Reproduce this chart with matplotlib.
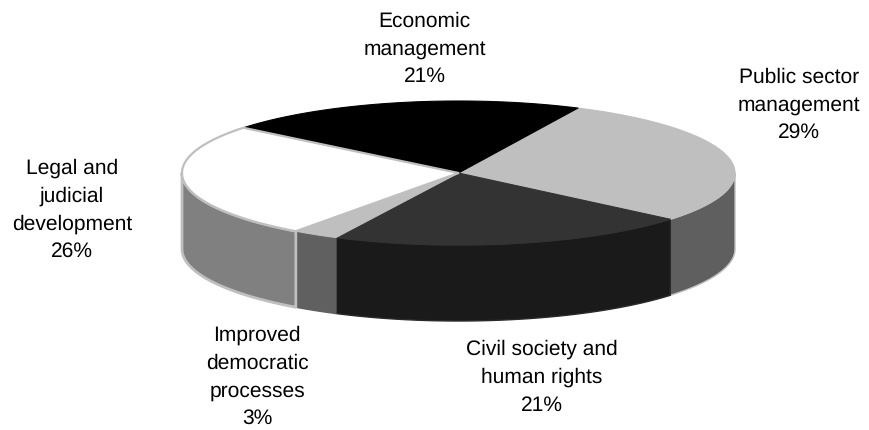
import numpy as np
import matplotlib
matplotlib.use("Agg")
import matplotlib.pyplot as plt
from matplotlib.patches import Polygon

categories = ["Public sector\nmanagement", "Civil society and\nhuman rights", "Improved\ndemocratic\nprocesses", "Legal and\njudicial\ndevelopment", "Economic\nmanagement"]
values = [29.0, 21.2, 2.7, 25.8, 21.3]
top_colors = ["#bfbfbf", "#333333", "#bfbfbf", "#ffffff", "#000000"]
side_colors = ["#5f5f5f", "#1a1a1a", "#606060", "#808080", "#000000"]
side_edges = ["#bfbfbf", "#2a2a2a", "#606060", "#bfbfbf", "#000000"]
top_edges = ["#bfbfbf", "#333333", "#bfbfbf", "#bfbfbf", "#000000"]
label_xy = [(799, 105), (542, 377.5), (257, 377), (72, 210), (424.7, 49)]

CX, CY, RX, RY, DEPTH = 458.5, 173, 276.5, 72, 76
START = 64.4

plt.rcParams["font.family"] = ["Liberation Sans", "DejaVu Sans"]
plt.rcParams["text.hinting"] = "none"
plt.rcParams["text.hinting_factor"] = 1
fig = plt.figure(figsize=(8.69, 4.30), dpi=100)
ax = fig.add_axes([0, 0, 1, 1])
ax.set_xlim(0, 869)
ax.set_ylim(430, 0)
ax.axis("off")

def rim(a0, a1, dy=0.0):
    n = max(int(abs(a1 - a0) * 2), 2)
    t = np.radians(np.linspace(a0, a1, n))
    return np.column_stack([CX + RX * np.cos(t), CY - RY * np.sin(t) + dy])

angles = START - np.concatenate([[0], np.cumsum(values)]) * 3.6

# front walls: only the part of each slice that lies below the horizontal axis
for i, v in enumerate(values):
    lo, hi = max(angles[i + 1], -180), min(angles[i], 0)
    if lo < hi:
        pts = np.vstack([rim(hi, lo), rim(lo, hi, DEPTH)])
        lw = 2.0 if i == 3 else 1.0
        ax.add_patch(Polygon(pts, closed=True, fc=side_colors[i], ec=side_edges[i], lw=lw, joinstyle="round", zorder=2))

# top faces, the white one last so that its outline stays whole
for i in [0, 1, 2, 4, 3]:
    pts = np.vstack([[CX, CY], rim(angles[i], angles[i + 1])])
    ax.add_patch(Polygon(pts, closed=True, fc=top_colors[i], ec=top_edges[i], lw=1.6 if i == 3 else 0.8, joinstyle="round", zorder=3))

for lab, v, (x, y) in zip(categories, values, label_xy):
    ax.text(x, y, f"{lab}\n{round(v)}%", ha="center", va="center", fontsize=15.2, color="black", linespacing=1.54, zorder=6)

fig.savefig("out.png", dpi=100, facecolor="white")
